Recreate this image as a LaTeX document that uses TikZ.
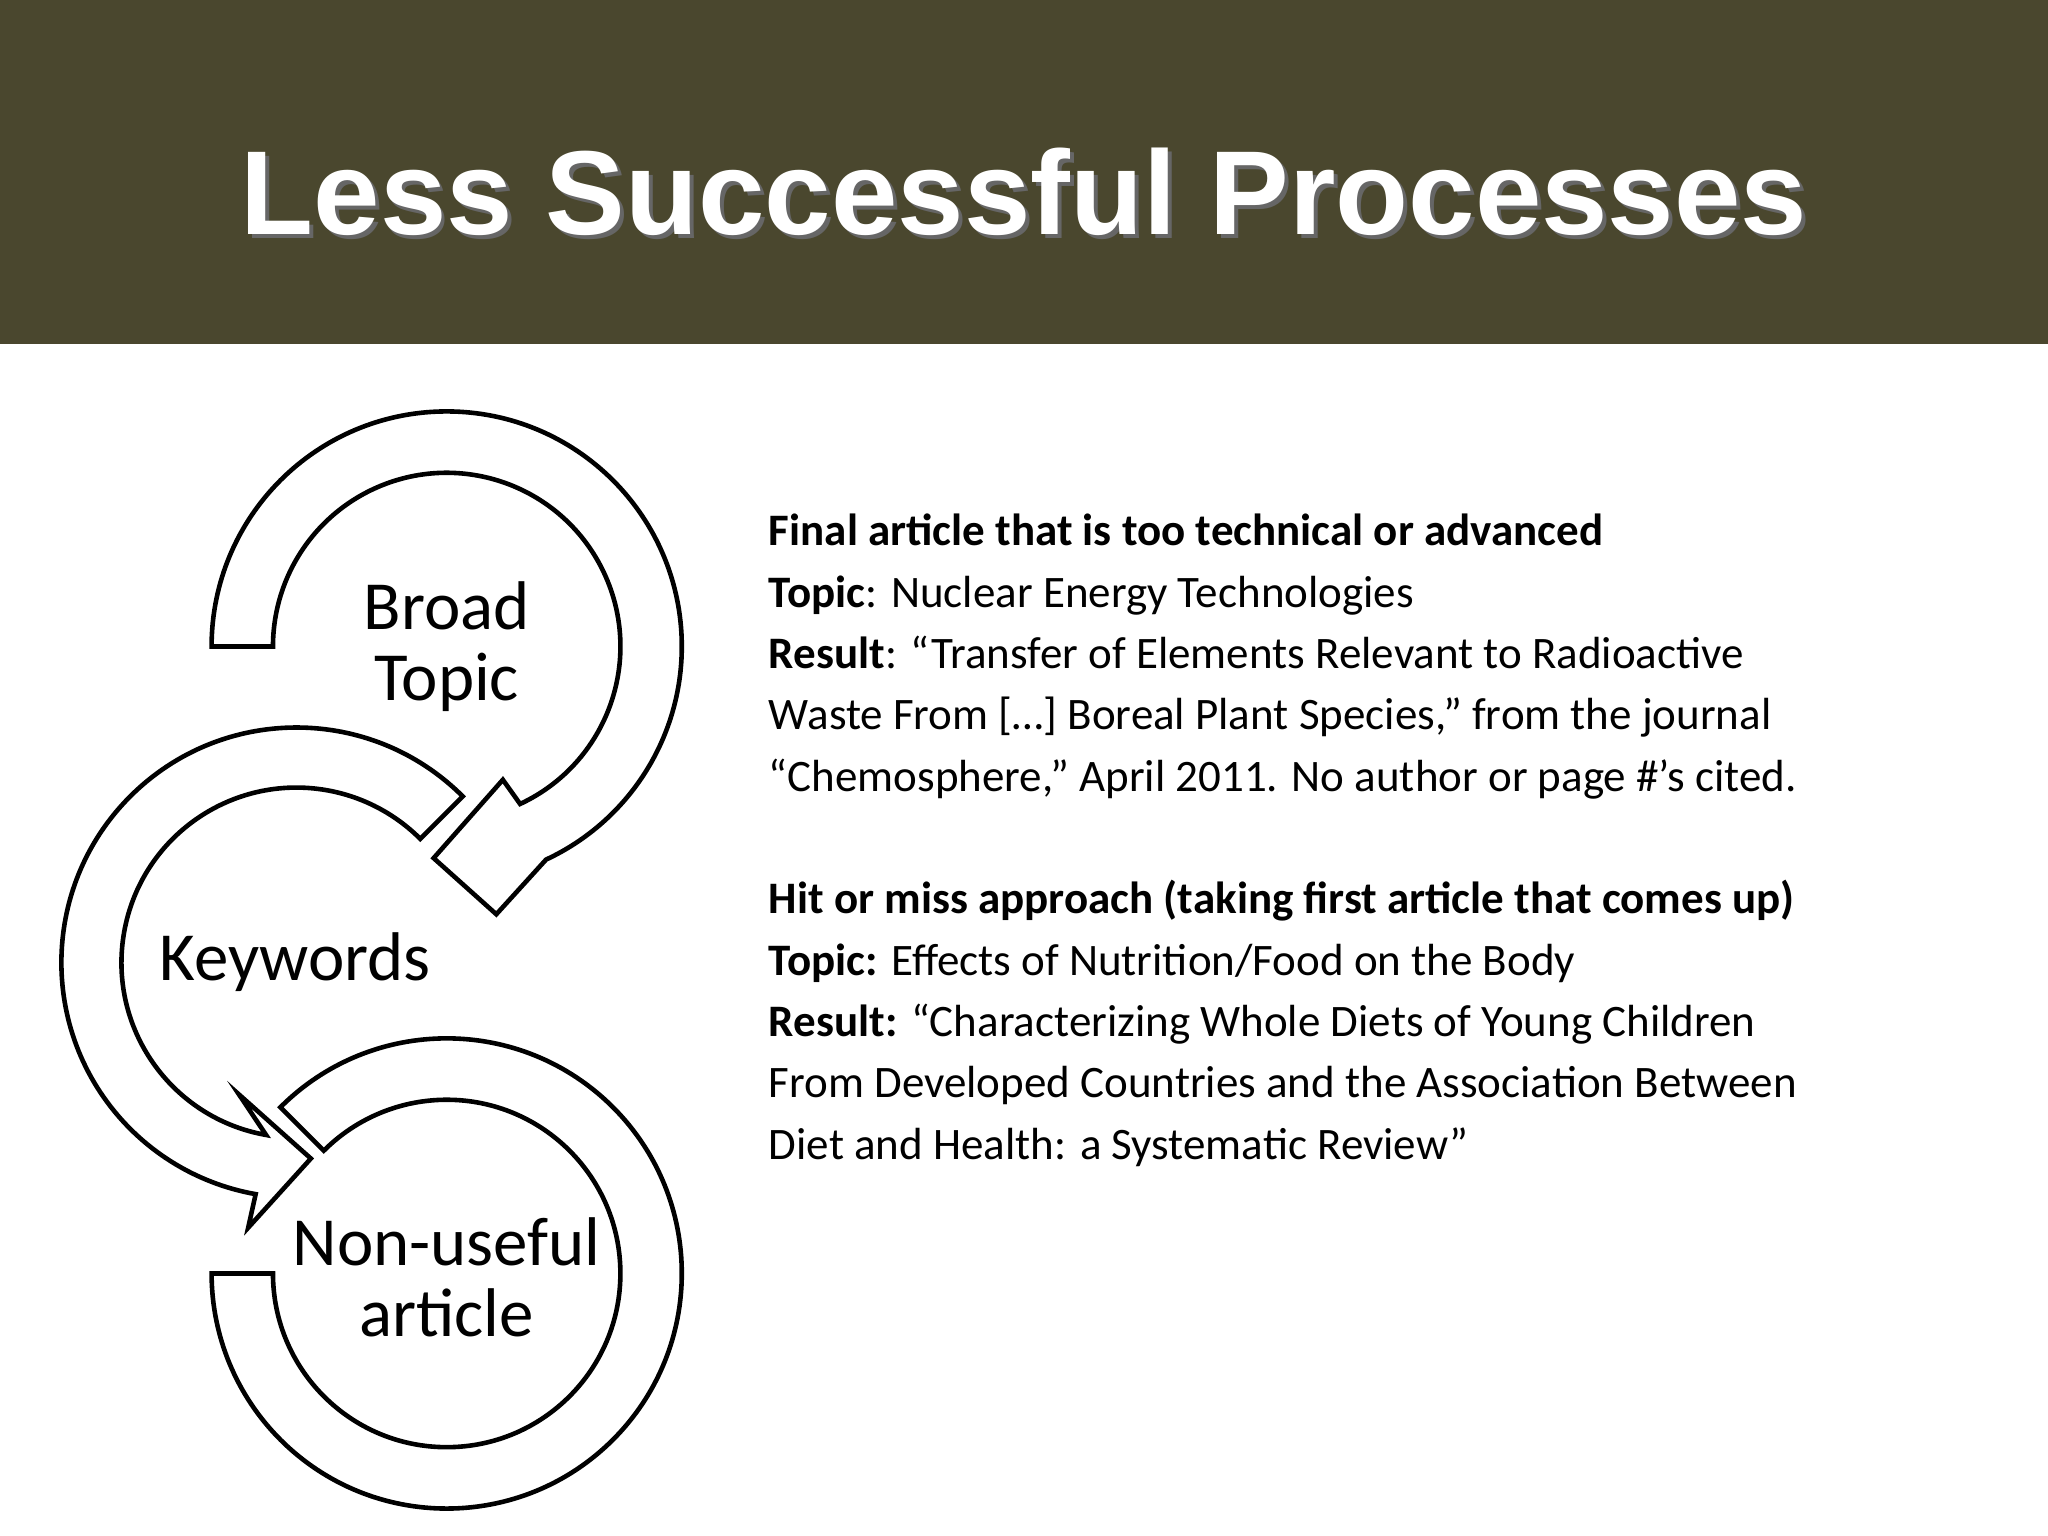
\documentclass[tikz,border=0pt]{standalone}
\usepackage{fontspec}
\setmainfont{Carlito}
\newfontfamily\titlefont{Liberation Sans}
\usetikzlibrary{calc}
\definecolor{hdr}{HTML}{4A472E}
\begin{document}
\begin{tikzpicture}[x=0.01cm,y=0.01cm,band/.style={draw=black,fill=white,line width=1pt,line join=miter}]
\useasboundingbox (0,0) rectangle (1568,-1176);
\fill[white] (0,0) rectangle (1568,-1176);
\fill[hdr] (0,0) rectangle (1568,-263);
\node[text=black!60,font=\titlefont\bfseries\fontsize{26}{30}\selectfont] at (787,-150) {Less Successful Processes};
\node (title) [text=white,font=\titlefont\bfseries\fontsize{26}{30}\selectfont] at (784,-147) {Less Successful Processes};
% circle 3
\draw[band] ($(342,-975)+(135:180)$) arc[start angle=135,end angle=-180,radius=180] -- (209,-975) arc[start angle=-180,end angle=135,radius=133] -- cycle;
% circle 2
\draw[band] ($(227,-737)+(45:180)$) arc[start angle=45,end angle=260,radius=180] -- (190,-940) -- (238,-887) -- (183,-838) -- ($(227,-737)+(260:134)$) arc[start angle=260,end angle=45,radius=134] -- cycle;
% circle 1
\draw[band] (162,-495) arc[start angle=180,end angle=-65,radius=180] -- (380,-700) -- (332,-657) -- (385,-597) -- ($(342,-495)+(-65:133)$) arc[start angle=-65,end angle=180,radius=133] -- cycle;
\node (broad) [align=center,font=\fontsize{15}{15.6}\selectfont] at (342,-495) {Broad\\Topic};
\node (kw) [font=\fontsize{15}{15.6}\selectfont] at (226,-737) {Keywords};
\node (nu) [align=center,font=\fontsize{15}{15.6}\selectfont] at (342,-978) {Non-useful\\article};
\node (body) [anchor=north west,align=left,inner sep=0pt,font=\fontsize{9.8}{13.35}\selectfont] at (588,-393) {%
\textbf{Final article that is too technical or advanced}\\
\textbf{Topic}: Nuclear Energy Technologies\\
\textbf{Result}: “Transfer of Elements Relevant to Radioactive\\
Waste From […] Boreal Plant Species,” from the journal\\
“Chemosphere,” April 2011. No author or page \#’s cited.\\[13.35pt]
\textbf{Hit or miss approach (taking first article that comes up)}\\
\textbf{Topic:} Effects of Nutrition/Food on the Body\\
\textbf{Result:} “Characterizing Whole Diets of Young Children\\
From Developed Countries and the Association Between\\
Diet and Health: a Systematic Review”};
\end{tikzpicture}
\end{document}
